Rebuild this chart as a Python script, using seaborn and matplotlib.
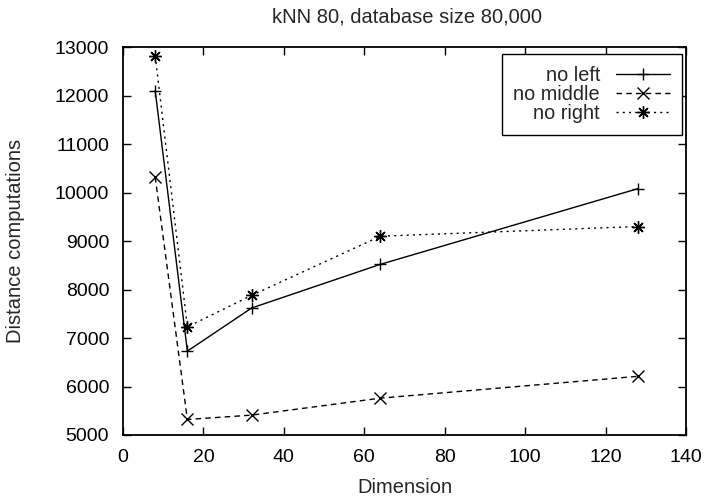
import matplotlib
matplotlib.use("Agg")
import matplotlib.pyplot as plt
import seaborn as sns
import pandas as pd

# --- Data ---
DIMENSIONS = [8, 16, 32, 64, 128]
NO_LEFT = [12100, 6730, 7620, 8520, 10080]
NO_MIDDLE = [10320, 5320, 5410, 5760, 6210]
NO_RIGHT = [12820, 7230, 7880, 9100, 9300]
SERIES = ['no left', 'no middle', 'no right']

df = pd.DataFrame({
    'Dimension': DIMENSIONS * 3,
    'Distance computations': NO_LEFT + NO_MIDDLE + NO_RIGHT,
    'series': sum([[s] * len(DIMENSIONS) for s in SERIES], []),
})

# --- Style ---
sns.set_style("ticks")
plt.rcParams['font.family'] = ['Liberation Sans', 'DejaVu Sans']

fig = plt.figure(figsize=(7.12, 4.96), dpi=100)
ax = fig.add_axes([0.1728, 0.123, 0.7907, 0.782])

styles = {
    'no left': dict(marker='+', ls='-'),
    'no middle': dict(marker='x', ls=(0, (4, 3))),
    'no right': dict(marker=(8, 2, 0), ls=(0, (1.5, 3))),
}

for s in SERIES:
    st = styles[s]
    sns.lineplot(data=df[df['series'] == s], x='Dimension', y='Distance computations',
                 ax=ax, color='black', lw=1.0, linestyle=st['ls'],
                 marker=st['marker'], markersize=9, markeredgewidth=1.0,
                 markeredgecolor='black', label=s)

ax.set_xlim(0, 140)
ax.set_ylim(5000, 13000)
ax.set_xticks(range(0, 141, 20))
ax.set_yticks(range(5000, 13001, 1000))
ax.tick_params(direction='in', length=6, width=1, top=True, right=True,
               labelsize=14, colors='black', pad=10)
for sp in ax.spines.values():
    sp.set_visible(True)
    sp.set_linewidth(1.3)
    sp.set_color('black')

ax.set_title('kNN 80, database size 80,000', fontsize=14.5, pad=18, x=0.505)
ax.set_xlabel('Dimension', fontsize=14.5)
ax.set_ylabel('Distance computations', fontsize=14.5)
ax.xaxis.set_label_coords(0.5, -0.111)
ax.yaxis.set_label_coords(-0.174, 0.5)

leg = ax.legend(loc='upper right', bbox_to_anchor=(0.992, 0.982), markerfirst=False,
                frameon=True, fancybox=False, edgecolor='black', framealpha=1,
                handlelength=2.7, handletextpad=0.8, labelspacing=0.0,
                borderpad=0.6, borderaxespad=0, fontsize=14.3)
leg.get_frame().set_linewidth(1.0)

fig.savefig('out.png', dpi=100)
